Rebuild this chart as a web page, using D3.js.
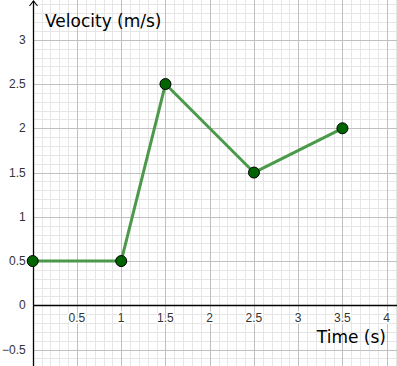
<!DOCTYPE html>
<html><head><meta charset="utf-8">
<script src="https://cdn.jsdelivr.net/npm/d3@7"></script>
<style>body{margin:0;background:#fff}svg{display:block}</style>
</head><body>
<script>
const timeValues = [0, 1, 1.5, 2.5, 3.5];
const velocityValues = [0.5, 0.5, 2.5, 1.5, 2];
const xTickLabels = [0.5, 1, 1.5, 2, 2.5, 3, 3.5, 4];
const yTickLabels = [-0.5, 0, 0.5, 1, 1.5, 2, 2.5, 3];
const xTitle = "Time (s)";
const yTitle = "Velocity (m/s)";

const W = 397, H = 366;
const x = d3.scaleLinear().domain([0, 4]).range([32.7, 386.7]);
const y = d3.scaleLinear().domain([0, 3]).range([305.3, 39.8]);
const xMax = x.invert(W), yMin = y.invert(H), yMaxV = y.invert(0);

const svg = d3.select("body").append("svg").attr("width", W).attr("height", H);
const font = "'DejaVu Sans', sans-serif";
const tickFont = "'Liberation Sans', Arial, sans-serif";

// minor grid
const minorX = d3.range(1, Math.floor(xMax * 10) + 1).map(i => i / 10).filter(v => Math.round(v * 10) % 5 !== 0);
const minorY = d3.range(Math.ceil(yMin * 10), Math.floor(yMaxV * 10) + 1).map(i => i / 10).filter(v => Math.round(v * 10) % 5 !== 0);
const g = svg.append("g").attr("shape-rendering", "crispEdges");
g.selectAll(".mx").data(minorX).enter().append("line")
  .attr("x1", d => Math.round(x(d)) + 0.5).attr("x2", d => Math.round(x(d)) + 0.5)
  .attr("y1", 0).attr("y2", H).attr("stroke", "#e6e6e6");
g.selectAll(".my").data(minorY).enter().append("line")
  .attr("y1", d => Math.round(y(d)) + 0.5).attr("y2", d => Math.round(y(d)) + 0.5)
  .attr("x1", x(0)).attr("x2", W).attr("stroke", "#e6e6e6");
// major grid
const majorX = xTickLabels;
const majorY = d3.range(Math.ceil(yMin * 2), Math.floor(yMaxV * 2) + 1).map(i => i / 2).filter(v => v !== 0);
g.selectAll(".Mx").data(majorX).enter().append("line")
  .attr("x1", d => Math.round(x(d)) + 0.5).attr("x2", d => Math.round(x(d)) + 0.5)
  .attr("y1", 0).attr("y2", H).attr("stroke", "#c0c0c0");
g.selectAll(".My").data(majorY).enter().append("line")
  .attr("y1", d => Math.round(y(d)) + 0.5).attr("y2", d => Math.round(y(d)) + 0.5)
  .attr("x1", x(0)).attr("x2", W).attr("stroke", "#c0c0c0");

// axes
const ax0 = Math.round(x(0)) + 0.5, ay0 = Math.round(y(0)) + 0.5;
svg.append("line").attr("x1", ax0).attr("x2", W).attr("y1", ay0).attr("y2", ay0).attr("stroke", "#000").attr("stroke-width", 1.3);
svg.append("line").attr("x1", ax0).attr("x2", ax0).attr("y1", 1).attr("y2", H).attr("stroke", "#000").attr("stroke-width", 1.3);
svg.append("path").attr("d", `M${ax0-4},${6} L${ax0},${1} L${ax0+4},${6}`).attr("fill", "none").attr("stroke", "#000").attr("stroke-width", 1.1);

// tick labels
const fmt = v => (v < 0 ? "\u2212" + Math.abs(v) : String(v));
svg.selectAll(".xl").data(xTickLabels).enter().append("text")
  .attr("x", d => x(d)).attr("y", y(0) + 17).attr("text-anchor", "middle")
  .attr("font-family", tickFont).attr("font-size", 12).attr("fill", "#333")
  .attr("stroke", "#fff").attr("stroke-width", 3).attr("paint-order", "stroke")
  .text(fmt);
svg.selectAll(".yl").data(yTickLabels).enter().append("text")
  .attr("x", x(0) - 7).attr("y", d => y(d) + 4).attr("text-anchor", "end")
  .attr("font-family", tickFont).attr("font-size", 12).attr("fill", "#333")
  .text(fmt);

// titles
svg.append("text").attr("x", 45).attr("y", 27).attr("font-family", font).attr("font-size", 17).attr("fill", "#000").text(yTitle);
svg.append("text").attr("x", 386).attr("y", 343).attr("text-anchor", "end").attr("font-family", font).attr("font-size", 17).attr("fill", "#000").text(xTitle);

// data line
const pts = timeValues.map((t, i) => [t, velocityValues[i]]);
svg.append("path").datum(pts)
  .attr("d", d3.line().x(d => x(d[0])).y(d => y(d[1])))
  .attr("fill", "none").attr("stroke", "#4c994c").attr("stroke-width", 3).attr("stroke-linejoin", "round");
svg.selectAll(".pt").data(pts).enter().append("circle")
  .attr("cx", d => x(d[0])).attr("cy", d => y(d[1])).attr("r", 5.5)
  .attr("fill", "#006400").attr("stroke", "#000").attr("stroke-width", 1);
</script>
</body></html>
